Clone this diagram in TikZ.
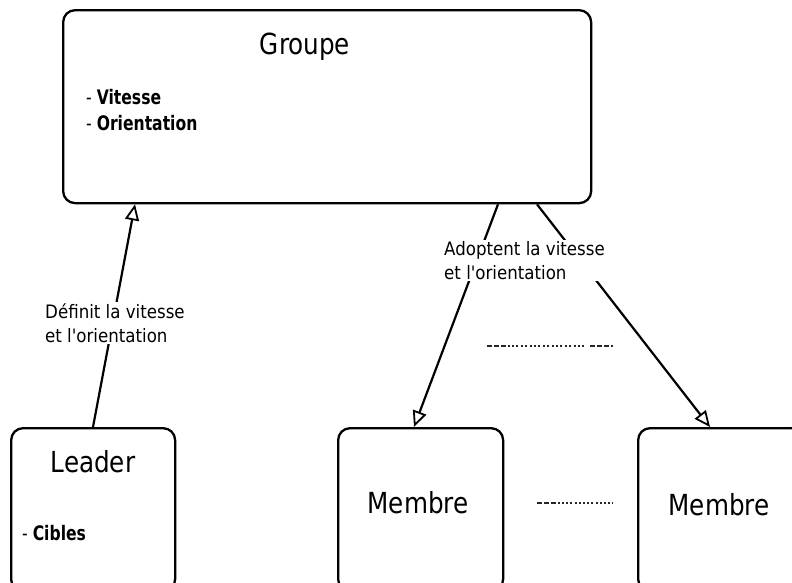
\documentclass[tikz,border=0pt]{standalone}
\usepackage{fontspec}
\setmainfont{DejaVu Sans}
\newfontfamily\titlefont{DejaVu Sans}[FakeStretch=0.85]
\newfontfamily\labelfont{DejaVu Sans}[FakeStretch=0.9]
\newfontfamily\attrfont{DejaVu Sans}[FakeStretch=0.78]
\usetikzlibrary{arrows.meta,calc}

\begin{document}
\begin{tikzpicture}[x=1pt,y=-1pt,
  box/.style={draw=black, line width=2.3pt, rounded corners=12pt, inner sep=0pt, anchor=north west},
  title/.style={font=\titlefont\fontsize{29}{32}\selectfont, inner sep=0pt},
  attr/.style={font=\attrfont\fontsize{20}{26}\selectfont, anchor=west, inner sep=0pt, align=left},
  lbl/.style={font=\labelfont\fontsize{18.5}{24.5}\selectfont, fill=white, align=left, inner sep=1pt, anchor=west},
  link/.style={draw=black, line width=2.2pt, -{Triangle[length=16pt,width=14pt,fill=white,line width=1.8pt]}},
  dots/.style={draw=black!85, line width=2.6pt}]
\useasboundingbox (0,0) rectangle (792,582);
\clip (0,0) rectangle (792,582);

% boxes
\node[box, minimum width=528pt, minimum height=193pt] (groupe) at (62,9) {};
\node[box, minimum width=164pt, minimum height=163pt] (leader) at (10,427) {};
\node[box, minimum width=165pt, minimum height=163pt] (membreA) at (337,427) {};
\node[box, minimum width=165pt, minimum height=163pt] (membreB) at (637,427) {};

% titles
\node[title] (tgroupe) at (305,47) {Groupe};
\node[title] (tleader) at (93,462) {Leader};
\node[title] (tmembreA) at (418,503) {Membre};
\node[title] (tmembreB) at (719,505) {Membre};

% attributes
\node[attr] (agroupe) at (86,110) {{\mdseries - }\textbf{Vitesse}\\{\mdseries - }\textbf{Orientation}};
\node[attr] (aleader) at (22,533) {{\mdseries - }\textbf{Cibles}};

% connectors
\coordinate (gl) at ($(groupe.south west)+(73,0)$);
\coordinate (gm) at ($(groupe.south west)+(436,0)$);
\coordinate (gr) at ($(groupe.south west)+(475,0)$);
\coordinate (lt) at ($(leader.north west)+(83,0)$);
\coordinate (mat) at ($(membreA.north west)+(77,0)$);
\coordinate (mbt) at ($(membreB.north west)+(73,0)$);
\draw[link] (lt) -- (gl);
\draw[link] (gm) -- (mat);
\draw[link] (gr) -- (mbt);

% connector labels
\node[lbl] (ldef) at (44,323) {Définit la vitesse\\et l'orientation};
\node[lbl] (ladopt) at (443,260.5) {Adoptent la vitesse\\et l'orientation};

% ellipsis between members
\draw[dots, dash pattern=on 5pt off 2pt] (487,346) -- (510,346);
\draw[dots, line width=2.4pt, dash pattern=on 2pt off 2.4pt] (512,346) -- (586,346);
\draw[dots, dash pattern=on 5pt off 2pt] (590,346) -- (613,346);
\draw[dots, dash pattern=on 5pt off 2pt] (537,503) -- (560,503);
\draw[dots, line width=2.4pt, dash pattern=on 2pt off 2.2pt] (562,503) -- (613,503);
\end{tikzpicture}
\end{document}
